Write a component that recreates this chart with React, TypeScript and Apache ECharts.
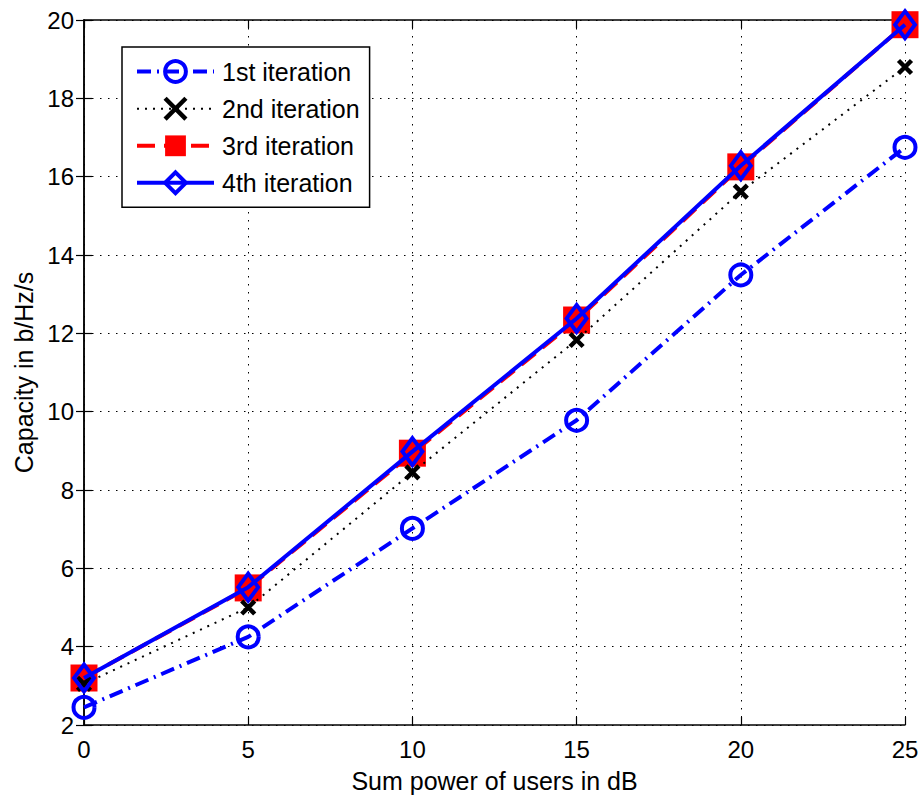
import React, { useEffect, useRef } from "react";
import * as echarts from "echarts";

const xValues = [0, 5, 10, 15, 20, 25];
const iter1 = [2.45, 4.25, 7.02, 9.78, 13.49, 16.75];
const iter2 = [3.05, 5.0, 8.45, 11.83, 15.62, 18.8];
const iter3 = [3.2, 5.5, 8.94, 12.34, 16.25, 19.88];
const iter4 = [3.2, 5.52, 8.98, 12.38, 16.28, 19.88];
const seriesNames = ["1st iteration", "2nd iteration", "3rd iteration", "4th iteration"];
const xAxisTitle = "Sum power of users in dB";
const yAxisTitle = "Capacity in b/Hz/s";

const FONT = "'Liberation Sans', Arial, Helvetica, sans-serif";
const BLUE = "#0000ff";
const RED = "#ff0000";

const pairs = (ys: number[]) => xValues.map((x, i) => [x, ys[i]]);

export default function App() {
  const ref = useRef<HTMLDivElement>(null);
  useEffect(() => {
    if (!ref.current) return;
    const chart = echarts.init(ref.current, undefined, { renderer: "svg" });
    const baseAxisLine = { show: true, lineStyle: { color: "#000", width: 1.5 } };
    const tick = { show: true, inside: true, length: 8, lineStyle: { color: "#000", width: 1.2 } };
    const grid = { show: true, lineStyle: { color: "#000", width: 1, type: [1.5, 6.5] } };
    chart.setOption({
      animation: false,
      backgroundColor: "#fff",
      grid: { left: 84, right: 17, top: 20, bottom: 75, containLabel: false },
      legend: {
        orient: "vertical",
        left: 122,
        top: 47,
        padding: [12, 10, 12, 13],
        itemWidth: 77,
        itemHeight: 26,
        itemGap: 12,
        borderColor: "#000",
        borderWidth: 1.5,
        backgroundColor: "#fff",
        textStyle: { fontFamily: FONT, fontSize: 25, color: "#000", padding: [0, 0, 0, 3] },
        itemStyle: { borderWidth: "inherit" },
        lineStyle: { width: "inherit", type: "inherit" },
        data: seriesNames,
      },
      xAxis: [
        {
          type: "value",
          min: 0,
          max: 25,
          interval: 5,
          name: xAxisTitle,
          nameLocation: "middle",
          nameGap: 43,
          nameTextStyle: { fontFamily: FONT, fontSize: 25, color: "#000" },
          axisLine: baseAxisLine,
          axisTick: tick,
          axisLabel: { fontFamily: FONT, fontSize: 24, color: "#000", margin: 12 },
          splitLine: grid,
        },
        {
          type: "value",
          position: "top",
          min: 0,
          max: 25,
          interval: 5,
          axisLine: baseAxisLine,
          axisTick: tick,
          axisLabel: { show: false },
          splitLine: { show: false },
        },
      ],
      yAxis: [
        {
          type: "value",
          min: 2,
          max: 20,
          interval: 2,
          name: yAxisTitle,
          nameLocation: "middle",
          nameGap: 47,
          nameTextStyle: { fontFamily: FONT, fontSize: 25, color: "#000" },
          axisLine: baseAxisLine,
          axisTick: tick,
          axisLabel: { fontFamily: FONT, fontSize: 24, color: "#000", margin: 10 },
          splitLine: grid,
        },
        {
          type: "value",
          position: "right",
          min: 2,
          max: 20,
          interval: 2,
          axisLine: baseAxisLine,
          axisTick: tick,
          axisLabel: { show: false },
          splitLine: { show: false },
        },
      ],
      series: [
        {
          name: seriesNames[0],
          type: "line",
          data: pairs(iter1),
          clip: false,
          symbol: "circle",
          symbolSize: 21,
          lineStyle: { color: BLUE, width: 4, type: [14, 6, 2, 6] },
          itemStyle: { color: "rgba(0,0,0,0)", borderColor: BLUE, borderWidth: 4 },
          z: 2,
        },
        {
          name: seriesNames[1],
          type: "line",
          data: pairs(iter2),
          clip: false,
          symbol: "path://M0,0L10,10M0,10L10,0",
          symbolSize: 13,
          lineStyle: { color: "#000", width: 2, type: [2, 6] },
          itemStyle: { color: "#000", borderColor: "#000", borderWidth: 4.5 },
          z: 3,
        },
        {
          name: seriesNames[2],
          type: "line",
          data: pairs(iter3),
          clip: false,
          symbol: "rect",
          symbolSize: 27,
          lineStyle: { color: RED, width: 4, type: [18, 9] },
          itemStyle: { color: RED, borderColor: RED, borderWidth: 0 },
          z: 2,
        },
        {
          name: seriesNames[3],
          type: "line",
          data: pairs(iter4),
          clip: false,
          symbol: "diamond",
          symbolSize: [20, 27],
          lineStyle: { color: BLUE, width: 4, type: "solid" },
          itemStyle: { color: "rgba(0,0,0,0)", borderColor: BLUE, borderWidth: 4 },
          z: 4,
        },
      ],
    });
    return () => chart.dispose();
  }, []);
  return (
    <div
      ref={ref}
      style={{ position: "absolute", left: 0, top: 0, width: 922, height: 800, background: "#fff" }}
    />
  );
}
